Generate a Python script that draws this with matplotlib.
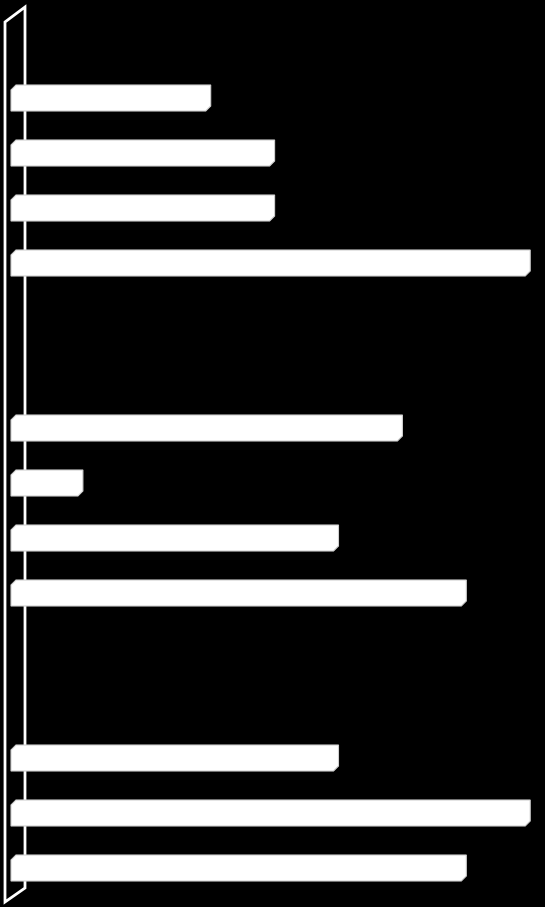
import matplotlib
matplotlib.use("Agg")
import matplotlib.pyplot as plt
from matplotlib.patches import Polygon
import numpy as np

# Data: slot positions (top to bottom) and bar values
slots = [0, 1, 2, 3, 6, 7, 8, 9, 12, 13, 14]
values = [3, 4, 4, 8, 6, 1, 5, 7, 5, 8, 7]

fig = plt.figure(figsize=(5.45, 9.07), dpi=100, facecolor="black")
ax = fig.add_axes([0, 0, 1, 1])
ax.set_facecolor("black")

px = 63.9   # pixels per unit along x
py = 55.0   # pixels per slot along y
ax.set_xlim(-19 / px, (545 - 19) / px)
ax.set_ylim((907 - 98) / py, -98 / py)
ax.axis("off")

# 3D side wall
def to_data(x, y):
    return ((x - 19) / px, (y - 98) / py)

wall_pts = [to_data(5, 22), to_data(25, 7), to_data(25, 888), to_data(5, 902)]
wall = Polygon(wall_pts, closed=True, fill=False, edgecolor="white", linewidth=2)
ax.add_patch(wall)

# bars with chamfered corners
h = 26 / py
start = -8 / px
cx = 5 / px
cy = 5 / py
for s, v in zip(slots, values):
    top = s - h / 2
    bot = s + h / 2
    pts = [
        (start, top + cy),
        (start + cx, top),
        (v, top),
        (v, bot - cy),
        (v - cx, bot),
        (start, bot),
    ]
    ax.add_patch(Polygon(pts, closed=True, facecolor="white",
                         edgecolor="#d0d0d0", linewidth=0.8, zorder=3))

fig.savefig("out.png", dpi=100, facecolor="black")
